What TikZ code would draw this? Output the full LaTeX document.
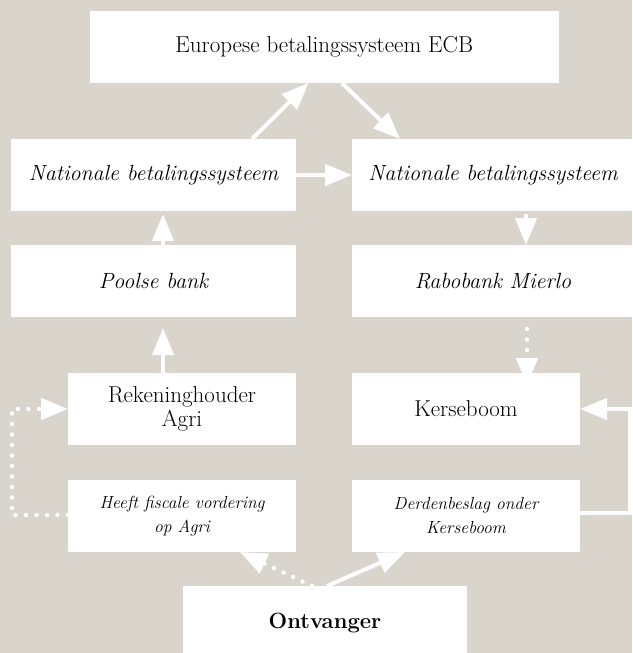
\documentclass[tikz,border=0pt]{standalone}
\usetikzlibrary{arrows.meta,calc}
\definecolor{bg}{HTML}{D9D4CC}
\begin{document}
\begin{tikzpicture}[x=1pt,y=-1pt,
  box/.style={fill=white,draw=none,inner sep=0pt,outer sep=0pt,align=center,
    text=black,font=\fontsize{23}{24}\selectfont},
  ital/.style={font=\fontsize{22}{24}\selectfont\itshape},
  wide/.style={minimum width=285pt,minimum height=72pt},
  narrow/.style={minimum width=228pt,minimum height=72pt},
  small/.style={font=\fontsize{17.5}{24}\selectfont\itshape},
  arr/.style={draw=white,line width=4pt,-{Triangle[length=27pt,width=21pt]}},
  dots/.style={draw=white,line width=4.5pt,line cap=round,dash pattern=on 0pt off 10.5pt,
    -{Triangle[length=27pt,width=21pt]}}]
\fill[bg] (0,0) rectangle (632,653);
\useasboundingbox (0,0) rectangle (632,653);

\node[box,minimum width=469.5pt,minimum height=72pt] (ecb) at (324.25,47) {Europese betalingssysteem ECB};
\node[box,wide,ital] (natL) at (153.5,175) {Nationale betalingssysteem};
\node[box,ital,minimum width=282pt,minimum height=72pt] (natR) at (493,175) {Nationale betalingssysteem};
\node[box,wide,ital] (pool) at (153.5,281) {Poolse bank};
\node[box,ital,minimum width=282pt,minimum height=72pt] (rabo) at (493,281) {Rabobank Mierlo};
\node[box,narrow] (rek) at (182,409) {Rekeninghouder\\Agri};
\node[box,narrow] (kers) at (466,409) {Kerseboom};
\node[box,narrow,small] (heeft) at (182,516) {Heeft fiscale vordering\\op Agri};
\node[box,narrow,small] (derd) at (466,516) {Derdenbeslag onder\\Kerseboom};
\node[box,minimum width=284pt,minimum height=74pt,font=\fontsize{22}{24}\selectfont\bfseries] (ont) at (325,623) {Ontvanger};

\draw[arr] ($(natL.north west)+(241,0)$) -- ($(ecb.south west)+(219,0)$);
\draw[arr] ($(ecb.south west)+(252.5,0)$) -- ($(natR.north west)+(48,0)$);
\draw[arr] (natL.east) -- (natR.west);
\draw[arr] ($(pool.north west)+(152,0)$) -- ($(natL.south west)+(152,3)$);
\draw[arr] ($(natR.south west)+(174,3)$) -- ($(rabo.north west)+(174,0)$);
\draw[arr] ($(rek.north west)+(95,0)$) -- ($(pool.south west)+(152,11)$);
\draw[dots] ($(rabo.south west)+(175,12)$) -- ($(kers.north west)+(175,12)$);
\draw[arr] ($(derd.north east)+(0,33)$) -- ++(50,0) |- (kers.east);
\draw[dots] ($(heeft.north west)+(0,35)$) -- ++(-56,0) |- (rek.west);
\draw[dots] ($(ont.north west)+(129,0)$) -- ($(heeft.south west)+(172,0)$);
\draw[arr] ($(ont.north west)+(144,0)$) -- ($(derd.south west)+(53,0)$);
\end{tikzpicture}
\end{document}
